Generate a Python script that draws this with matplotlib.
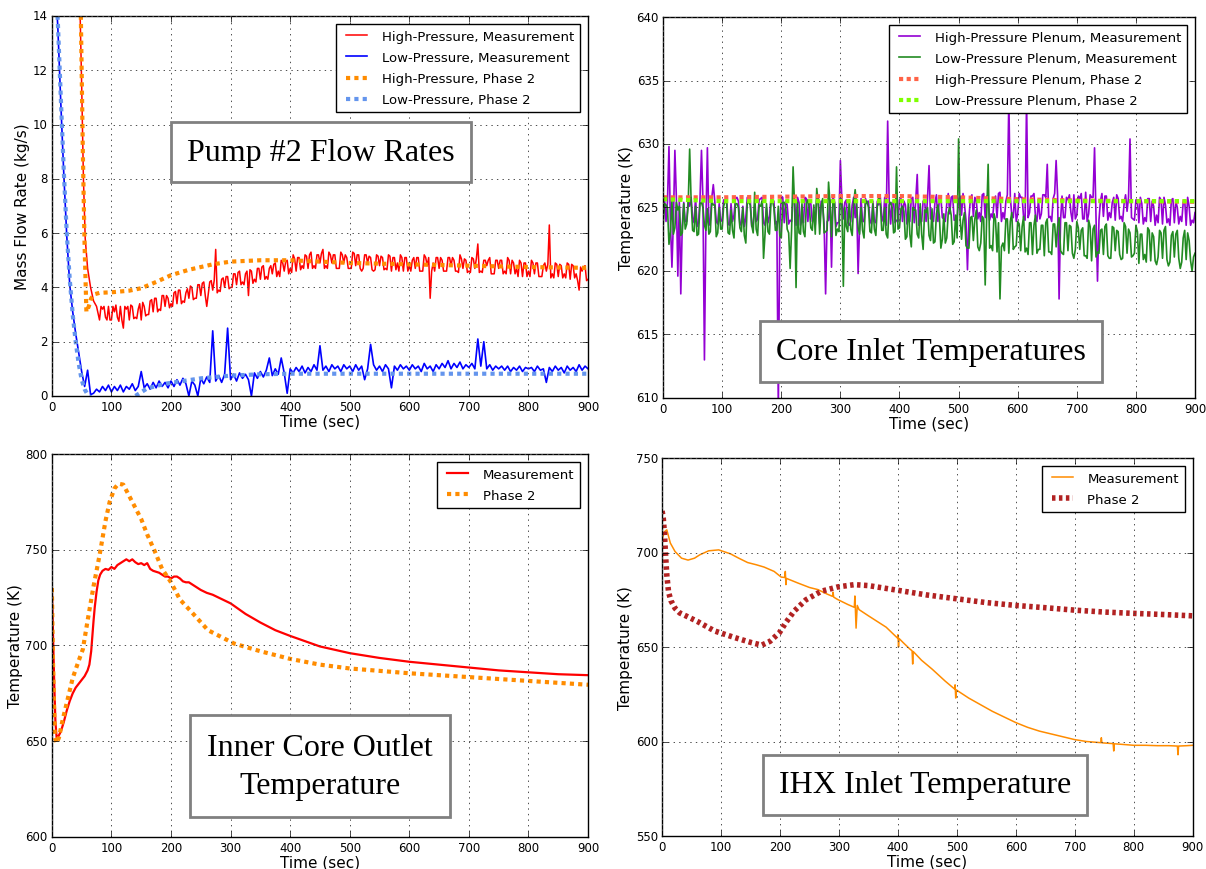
import matplotlib
matplotlib.use('Agg')
import matplotlib.pyplot as plt
import numpy as np

plt.style.use('classic')
plt.rcParams['figure.facecolor'] = 'white'
plt.rcParams['savefig.facecolor'] = 'white'
plt.rcParams['font.family'] = ['DejaVu Sans']
plt.rcParams['xtick.labelsize'] = 8.5
plt.rcParams['ytick.labelsize'] = 8.5
plt.rcParams['axes.labelsize'] = 11
plt.rcParams['legend.fontsize'] = 9.5

# ---------------- Pump #2 flow rates (kg/s) ----------------
hp_time = [47, 50, 53, 56] + list(range(60, 901, 5))
hp_flow = [14.5, 11.5, 8.0, 5.8,
           4.7, 4.0, 3.5, 3.3, 2.8, 3.2, 2.9, 3.3, 2.8, 3.1,
           2.9, 3.3, 2.5, 3.2, 2.8, 3.3, 2.9, 3.2, 2.8, 3.3,
           3.0, 3.5, 3.1, 3.6, 3.2, 3.7, 3.3, 3.6, 3.4, 3.8,
           3.4, 3.9, 3.5, 3.8, 3.6, 4.0, 3.6, 4.1, 3.7, 4.2,
           3.3, 4.2, 3.9, 5.4, 3.9, 4.3, 4.0, 4.4, 4.0, 4.5,
           4.1, 4.6, 4.2, 4.5, 3.7, 4.6, 4.3, 4.7, 4.3, 4.8,
           4.4, 4.7, 4.5, 4.9, 4.6, 5.0, 4.6, 5.0, 4.7, 5.2,
           4.6, 5.1, 4.8, 5.2, 4.7, 5.3, 4.8, 5.2, 4.9, 5.4,
           4.8, 5.3, 4.9, 5.2, 4.7, 5.3, 4.9, 5.1, 4.7, 5.3,
           4.8, 5.2, 4.6, 5.2, 4.9, 5.1, 4.6, 5.2, 4.8, 5.1,
           4.7, 5.2, 4.6, 5.1, 4.9, 5.2, 4.6, 5.1, 4.8, 5.0,
           4.7, 5.1, 4.6, 5.2, 4.8, 3.6, 4.9, 5.1, 4.7, 5.0,
           4.6, 5.1, 4.8, 5.0, 4.6, 5.2, 4.7, 5.0, 4.6, 5.1,
           4.7, 5.6, 4.6, 5.0, 4.8, 5.1, 4.5, 5.0, 4.7, 5.0,
           4.6, 5.1, 4.5, 4.9, 4.7, 5.0, 4.4, 4.9, 4.6, 5.0,
           4.5, 4.9, 4.4, 4.8, 4.6, 6.3, 4.5, 4.9, 4.4, 4.8,
           4.5, 4.9, 4.3, 4.8, 4.5, 3.9, 4.6, 4.8, 4.3]
# samples in between (82.5 s ... 897.5 s)
hp_time_mid = list(np.arange(82.5, 900, 5))
hp_flow_mid = [3.3, 3.3, 2.8, 2.8, 3.3, 3.35, 2.75, 2.8, 3.3, 3.3,
               3.35, 2.85, 2.85, 3.4, 3.45, 2.95, 3.0, 3.55, 3.6, 3.1,
               3.15, 3.7, 3.7, 3.25, 3.3, 3.85, 3.9, 3.4, 3.45, 3.95,
               4.05, 3.55, 3.6, 4.1, 4.15, 3.7, 3.75, 4.25, 4.25, 3.8,
               3.85, 4.35, 4.4, 3.95, 4.0, 4.5, 4.55, 4.1, 4.1, 4.6,
               4.65, 4.15, 4.2, 4.7, 4.75, 4.3, 4.3, 4.8, 4.85, 4.4,
               4.4, 4.9, 4.95, 4.5, 4.55, 5.05, 5.1, 4.65, 4.7, 5.15,
               5.2, 4.7, 4.7, 5.2, 5.25, 4.7, 4.7, 5.2, 5.2, 4.7,
               4.7, 5.2, 5.2, 4.7, 4.7, 5.25, 5.2, 4.7, 4.7, 5.2,
               5.15, 4.65, 4.65, 5.15, 5.15, 4.65, 4.65, 5.15, 5.1, 4.65,
               4.6, 5.1, 5.1, 4.6, 4.6, 5.1, 5.1, 4.6, 4.6, 5.1,
               5.1, 4.6, 4.6, 5.1, 5.1, 4.6, 4.6, 5.1, 5.1, 4.6,
               4.55, 5.05, 5.05, 4.55, 4.55, 5.05, 5.05, 4.55, 4.55, 5.0,
               5.0, 4.5, 4.5, 5.0, 5.0, 4.5, 4.5, 5.0, 5.0, 4.5,
               4.4, 4.9, 4.9, 4.4, 4.4, 4.9, 4.9, 4.4, 4.4, 4.9,
               4.85, 4.35, 4.35, 4.85, 4.85, 4.35, 4.35, 4.85, 4.85, 4.35,
               4.25, 4.75, 4.75, 4.25]

lp_time = list(range(0, 901, 5))
lp_flow = [17.5, 15.5, 13.6, 10.8, 8.2, 5.9, 4.1, 3.1, 2.3, 1.6,
           0.9, 0.35, 0.95, 0.05, 0.1, 0.25, 0.15, 0.35, 0.2, 0.4,
           0.15, 0.35, 0.2, 0.4, 0.15, 0.35, 0.25, 0.45, 0.2, 0.35,
           0.9, 0.3, 0.45, 0.25, 0.5, 0.3, 0.55, 0.35, 0.5, 0.3,
           0.55, 0.35, 0.6, 0.4, 0.65, 0.45, 0.0, 0.55, 0.4, 0.0,
           0.65, 0.45, 0.7, 0.5, 2.4, 0.55, 0.75, 0.5, 0.8, 2.5,
           0.6, 0.8, 0.55, 0.85, 0.65, 0.8, 0.6, 0.0, 0.85, 0.65,
           0.9, 0.7, 0.95, 1.4, 0.75, 1.0, 0.8, 1.4, 0.85, 0.1,
           1.0, 0.85, 1.05, 0.9, 1.1, 0.85, 1.05, 0.9, 1.15, 0.95,
           1.85, 0.95, 1.1, 0.9, 1.15, 1.0, 1.1, 0.9, 1.15, 1.0,
           1.1, 0.9, 1.15, 0.95, 1.1, 0.6, 1.0, 1.9, 1.15, 0.95,
           1.1, 0.9, 1.15, 1.0, 0.3, 1.1, 0.95, 1.15, 1.0, 1.1,
           0.95, 1.15, 1.0, 1.1, 0.9, 1.2, 1.0, 1.1, 0.9, 1.15,
           1.0, 1.2, 1.05, 1.3, 1.0, 1.2, 1.05, 1.25, 1.0, 1.15,
           1.05, 1.2, 1.0, 2.1, 1.1, 2.0, 1.0, 1.15, 0.95, 1.1,
           1.0, 1.1, 0.95, 1.1, 0.9, 1.05, 0.95, 1.1, 0.9, 1.05,
           1.0, 1.05, 0.9, 1.1, 0.95, 1.0, 0.5, 1.05, 0.9, 1.1,
           0.95, 1.05, 0.85, 1.1, 0.95, 1.05, 0.9, 1.15, 0.95, 1.1,
           1.0]

hp2_time = [48, 52, 55, 58, 62, 66, 72, 80, 100, 130, 150, 175, 200, 230,
            270, 300, 350, 400, 450, 500, 600, 700, 800, 900]
hp2_flow = [15, 9, 5.5, 3.1, 3.3, 3.6, 3.75, 3.8, 3.82, 3.88, 3.97, 4.2, 4.45,
            4.65, 4.85, 4.95, 5.0, 5.0, 4.95, 4.9, 4.85, 4.8, 4.75, 4.72]

lp2_time = [0, 5, 10, 15, 20, 25, 30, 35, 40, 45, 50, 55, 60, 70, 90, 120,
            140, 160, 190, 220, 250, 300, 350, 400, 500, 600, 700, 800, 900]
lp2_flow = [17.5, 15.8, 13.8, 11.0, 8.3, 6.0, 4.3, 3.0, 2.0, 1.2, 0.6, 0.25,
            0.05, -0.15, -0.3, -0.2, 0.0, 0.28, 0.45, 0.55, 0.65, 0.75, 0.8,
            0.82, 0.82, 0.82, 0.82, 0.82, 0.82]

# ---------------- Core inlet temperatures (K) ----------------
plenum_time = list(range(0, 901, 5))
hpp_temp = [625.6, 623.9, 629.8, 620.3, 629.5, 619.6, 618.2, 625.4, 623.9, 625.1,
            624.2, 625.8, 623.8, 629.5, 613.0, 629.7, 624.0, 626.8, 623.9, 625.3,
            624.0, 625.6, 623.7, 625.3, 624.4, 625.8, 623.6, 625.1, 624.2, 625.6,
            623.5, 625.2, 624.1, 625.7, 623.8, 625.0, 624.3, 625.6, 623.7, 609.0,
            625.9, 623.8, 625.2, 624.0, 625.7, 623.6, 625.4, 624.1, 625.8, 623.9,
            625.3, 624.2, 625.6, 623.7, 625.1, 618.2, 624.0, 620.3, 625.5, 623.8,
            628.7, 624.1, 625.6, 623.6, 625.2, 624.2, 619.8, 625.7, 623.9, 625.3,
            624.0, 625.5, 623.8, 625.2, 624.3, 625.8, 631.8, 623.7, 625.4, 624.0,
            625.6, 623.9, 625.2, 624.1, 625.7, 623.8, 627.6, 624.2, 625.5, 623.9,
            628.3, 624.3, 625.4, 623.9, 625.8, 624.1, 625.3, 624.5, 625.9, 624.0,
            625.6, 624.4, 625.2, 620.1, 625.7, 624.3, 625.5, 624.6, 626.0, 624.2,
            625.7, 624.5, 625.4, 624.2, 626.2, 624.6, 625.5, 633.5, 624.4, 626.1,
            624.5, 625.8, 624.2, 633.5, 624.6, 625.9, 624.3, 625.6, 624.5, 626.0,
            628.4, 624.3, 625.7, 628.7, 617.8, 625.9, 624.2, 625.6, 624.6, 626.0,
            624.4, 625.7, 624.1, 626.2, 624.5, 625.8, 629.7, 619.2, 625.5, 624.3,
            625.9, 624.6, 625.4, 624.0, 625.7, 624.3, 625.3, 624.7, 630.4, 624.1,
            625.6, 623.8, 625.3, 624.2, 625.7, 623.9, 625.1, 624.4, 625.8, 623.7,
            625.2, 624.1, 625.6, 623.8, 625.0, 624.3, 625.4, 623.6, 625.1, 624.0,
            624.6]
lpp_temp = [623.5, 625.2, 622.1, 625.5, 623.4, 624.8, 622.8, 625.3, 623.7, 629.6,
            623.2, 625.1, 622.9, 625.4, 623.6, 624.9, 623.1, 625.2, 622.7, 625.0,
            623.3, 625.5, 623.0, 624.8, 622.6, 625.3, 623.4, 625.0, 622.2, 625.4,
            623.6, 626.2, 622.8, 625.1, 621.0, 625.3, 622.9, 625.6, 623.2, 625.1,
            622.6, 625.4, 623.3, 620.2, 628.2, 618.7, 623.0, 625.3, 622.7, 625.6,
            623.4, 625.2, 626.5, 622.9, 625.7, 623.1, 627.0, 622.7, 625.4, 623.3,
            625.8, 618.8, 623.5, 625.6, 622.8, 626.4, 623.4, 625.0, 622.6, 625.5,
            623.1, 625.3, 622.8, 625.9, 623.2, 625.0, 622.6, 625.4, 623.0, 628.2,
            623.4, 625.1, 622.5, 625.6, 621.9, 624.8, 622.9, 625.3, 621.7, 624.6,
            622.8, 624.9, 622.3, 625.2, 621.8, 624.5, 622.6, 625.0, 622.1, 624.4,
            630.4, 622.5, 624.6, 621.8, 624.2, 622.4, 624.8, 621.6, 624.3, 618.9,
            628.4, 622.0, 624.5, 621.5, 617.8, 622.2, 624.1, 621.4, 624.6, 621.9,
            623.9, 621.6, 624.3, 621.8, 623.8, 621.3, 624.4, 621.7, 623.6, 621.2,
            624.1, 621.5, 623.7, 621.9, 624.2, 621.4, 623.8, 621.6, 623.5, 621.0,
            623.9, 621.7, 623.4, 621.2, 624.0, 620.8, 623.6, 621.5, 623.2, 621.3,
            623.7, 621.0, 623.5, 621.6, 623.1, 620.9, 623.8, 621.4, 623.0, 621.2,
            623.6, 620.6, 622.9, 621.3, 623.4, 620.8, 622.7, 620.5, 623.2, 621.0,
            623.5, 620.4, 622.8, 621.1, 623.2, 620.2, 622.6, 620.9, 622.4, 620.0,
            621.4]
# samples in between (2.5 s ... 897.5 s)
plenum_time_mid = list(np.arange(2.5, 900, 5))
hpp_temp_mid = [625.7, 625.5, 623.7, 623.9, 625.8, 625.6, 623.6, 623.9, 625.6, 625.8,
                623.8, 623.5, 625.7, 625.5, 623.9, 623.6, 625.8, 625.5, 623.7, 623.9,
                625.6, 625.8, 623.6, 623.9, 625.7, 625.5, 623.8, 623.5, 625.8, 625.6,
                623.7, 623.9, 625.6, 625.8, 623.6, 623.8, 625.7, 625.5, 623.9, 623.6,
                625.8, 625.5, 623.7, 623.9, 625.6, 625.8, 623.6, 623.8, 625.7, 625.5,
                623.9, 623.6, 625.8, 625.5, 623.7, 623.9, 625.6, 625.8, 623.5, 623.8,
                625.6, 625.4, 623.8, 623.9, 625.8, 625.5, 623.6, 623.9, 625.7, 625.5,
                623.7, 623.9, 625.5, 625.8, 623.9, 623.6, 625.6, 625.4, 623.8, 623.9,
                625.7, 625.5, 623.7, 623.9, 625.8, 625.6, 623.6, 623.9, 625.6, 625.8,
                624.1, 623.9, 626.0, 625.8, 624.2, 623.9, 626.1, 625.8, 624.0, 624.2,
                625.9, 626.1, 624.0, 624.2, 626.0, 625.8, 624.1, 623.9, 626.1, 625.9,
                624.0, 624.2, 625.9, 626.1, 623.9, 624.1, 626.0, 625.8, 624.2, 623.9,
                626.1, 625.8, 624.0, 624.2, 625.9, 626.1, 623.9, 624.1, 626.0, 625.8,
                624.2, 623.9, 626.1, 625.9, 624.0, 624.2, 625.8, 626.0, 623.9, 624.1,
                625.9, 626.1, 624.1, 623.9, 626.0, 625.8, 624.2, 624.0, 626.1, 625.9,
                624.0, 624.2, 625.8, 626.0, 624.1, 623.9, 626.0, 625.8, 624.2, 624.0,
                625.6, 625.8, 623.7, 623.9, 625.7, 625.5, 623.6, 623.8, 625.6, 625.8,
                623.8, 623.6, 625.7, 625.5, 623.7, 623.9, 625.6, 625.8, 623.6, 623.8]
lpp_temp_mid = [625.3, 625.0, 623.1, 622.9, 625.4, 625.1, 623.0, 623.3, 625.2, 625.5,
                623.1, 622.8, 625.3, 625.0, 623.2, 622.9, 625.5, 625.2, 623.0, 623.3,
                625.1, 625.4, 622.9, 623.2, 625.3, 625.0, 623.1, 622.8, 625.4, 625.2,
                623.0, 623.3, 625.2, 625.5, 622.9, 623.1, 625.3, 625.0, 623.2, 622.8,
                625.4, 625.1, 623.0, 623.3, 625.2, 625.4, 622.9, 623.1, 625.3, 625.0,
                623.2, 622.9, 625.4, 625.1, 623.0, 623.2, 625.3, 625.5, 622.8, 623.1,
                625.2, 625.0, 623.1, 623.3, 625.4, 625.1, 622.9, 623.2, 625.3, 625.0,
                623.0, 623.3, 625.1, 625.4, 623.2, 622.9, 625.2, 625.0, 623.1, 623.3,
                624.9, 624.7, 622.7, 622.9, 625.0, 624.8, 622.6, 622.9, 624.8, 625.0,
                622.4, 622.2, 624.5, 624.3, 622.5, 622.2, 624.6, 624.4, 622.3, 622.6,
                624.2, 624.0, 622.0, 621.8, 624.3, 624.1, 621.9, 622.2, 624.1, 624.3,
                621.8, 621.6, 624.0, 623.8, 621.9, 621.6, 624.1, 623.9, 621.7, 622.0,
                623.7, 623.5, 621.5, 621.3, 623.8, 623.6, 621.4, 621.7, 623.6, 623.8,
                621.5, 621.3, 623.7, 623.5, 621.6, 621.3, 623.8, 623.6, 621.4, 621.7,
                623.4, 623.2, 621.2, 621.0, 623.5, 623.3, 621.1, 621.4, 623.3, 623.5,
                621.2, 621.0, 623.4, 623.2, 621.3, 621.0, 623.5, 623.3, 621.1, 621.4,
                623.1, 622.9, 620.9, 620.7, 623.2, 623.0, 620.8, 621.1, 623.0, 623.2,
                620.9, 620.7, 623.1, 622.9, 621.0, 620.7, 623.2, 623.0, 620.8, 621.1]
plenum2_time = [0, 100, 200, 300, 400, 500, 600, 700, 800, 900]
hpp2_temp = [625.8, 625.8, 625.85, 625.9, 625.9, 625.8, 625.65, 625.55, 625.5, 625.45]
lpp2_temp = [625.65, 625.5, 625.5, 625.5, 625.5, 625.5, 625.5, 625.5, 625.5, 625.5]

# ---------------- Inner core outlet temperature (K) ----------------
ico_time = [0, 2, 4, 6, 8, 10, 15, 20, 25, 30, 35, 40, 45, 50, 55, 60, 63, 66,
            68, 70, 72, 75, 78, 81, 85, 90, 95, 100, 105, 110, 115, 120, 125,
            130, 135, 140, 145, 150, 155, 160, 165, 170, 175, 180, 185, 190,
            195, 200, 205, 210, 215, 220, 225, 230, 240, 250, 260, 270, 280,
            290, 300, 325, 350, 375, 400, 450, 500, 550, 600, 650, 700, 750,
            800, 850, 900]
ico_temp = [730, 705, 680, 660, 652, 652, 655, 660, 666, 671, 675, 678, 680,
            682, 684, 687, 690, 697, 705, 713, 720, 728, 734, 737, 739, 740,
            739.5, 741, 740, 742, 743, 744, 745, 744, 745, 743.5, 742.5, 743,
            742, 743, 740, 739, 738.5, 738, 737, 736, 736, 735, 736, 736, 735,
            733.5, 733, 733, 731, 729, 727.5, 726.5, 725, 723.5, 722, 716.5,
            712, 708, 705, 699.5, 696, 693.5, 691.5, 690, 688.5, 687, 686, 685,
            684.5]
ico2_time = [0, 2, 5, 8, 12, 18, 25, 35, 45, 52, 60, 70, 80, 90, 97, 105, 112,
             120, 130, 140, 150, 160, 173, 185, 200, 215, 233, 262, 306, 350,
             400, 450, 500, 600, 700, 800, 900]
ico2_temp = [730, 690, 652, 649, 652, 661, 670, 683, 692, 698, 713, 731, 747,
             765, 775, 782, 784.5, 784, 778, 772, 766, 758, 749, 740, 733, 724,
             718, 708, 701, 697, 693, 690, 688, 685.5, 683.5, 681.5, 679.5]

# ---------------- IHX inlet temperature (K) ----------------
ihx_time = [0, 4, 8, 14, 22, 33, 44, 55, 64, 79, 96, 116, 130, 145, 160, 173,
            190, 202, 208, 209, 210, 211, 230, 250, 264, 280, 289, 290, 291,
            298, 315, 326, 327, 329, 331, 334, 350, 365, 380, 399, 400, 401,
            402, 409, 420, 424, 425, 426, 440, 458, 480, 496, 497, 498, 499,
            520, 540, 560, 580, 600, 620, 640, 660, 680, 700, 720, 740, 744,
            745, 746, 760, 765, 766, 767, 780, 800, 820, 840, 860, 874, 875,
            876, 890, 900]
ihx_temp = [707, 711, 712, 705, 700.5, 697, 696, 697, 698.8, 700.9, 701.4,
            699.3, 697, 694.7, 693.5, 692.3, 690, 687, 686.8, 690, 683, 686.3,
            683.9, 681.5, 680.4, 678, 676.8, 679, 676.4, 675.1, 672.5, 671,
            677, 660, 672, 669.8, 666.5, 663.5, 660.5, 654.8, 656.5, 650,
            654.5, 652.3, 649, 648, 641, 647.6, 643, 638.3, 632, 627.8, 630,
            623, 627.3, 623, 619.5, 616, 613, 610, 607.5, 605.5, 604, 602.5,
            601, 600, 599.5, 599.4, 602, 599.3, 599, 598.9, 595, 598.8, 598.5,
            598, 598, 597.8, 597.8, 597.6, 593, 597.6, 597.8, 598]
ihx2_time = [0, 2, 4, 6, 8, 11, 15, 22, 30, 47, 60, 89, 123, 152, 169, 183,
             199, 210, 224, 244, 270, 298, 326, 350, 400, 450, 500, 550, 600,
             650, 700, 750, 800, 850, 900]
ihx2_temp = [722, 718, 710, 698, 688, 679, 674.5, 670.5, 668, 665.5, 663.5,
             658.5, 655, 652.3, 651, 653, 657.6, 663, 669, 675, 679.5, 681.8,
             683, 682.5, 680, 677.5, 675.5, 673.5, 672, 670.8, 669.5, 668.5,
             667.8, 667.2, 666.5]

time_ticks = list(range(0, 901, 100))


def merged(t_a, v_a, t_b, v_b):
    # put two sets of samples of one series into time order
    t = np.concatenate([t_a, t_b])
    v = np.concatenate([v_a, v_b])
    order = np.argsort(t, kind='stable')
    return t[order], v[order]


fig = plt.figure(figsize=(12.06, 8.7), dpi=100)
ax1 = fig.add_axes([0.043, 0.5437, 0.4446, 0.4368])
ax2 = fig.add_axes([0.5498, 0.5414, 0.4411, 0.4379])
ax3 = fig.add_axes([0.043, 0.0368, 0.4446, 0.4402])
ax4 = fig.add_axes([0.549, 0.0379, 0.440, 0.4345])

box = dict(boxstyle='square,pad=0.5', facecolor='white', edgecolor='0.5', linewidth=2)
serif = ['Liberation Serif', 'DejaVu Serif']

# Pump flow rates
t, v = merged(hp_time, hp_flow, hp_time_mid, hp_flow_mid)
ax1.plot(t, v, color='red', lw=1.1, label='High-Pressure, Measurement')
ax1.plot(lp_time, lp_flow, color='blue', lw=1.2, label='Low-Pressure, Measurement')
ax1.plot(hp2_time, hp2_flow, color='darkorange', lw=3, dashes=(3, 3),
         label='High-Pressure, Phase 2')
ax1.plot(lp2_time, lp2_flow, color='cornflowerblue', lw=3, dashes=(3, 3),
         label='Low-Pressure, Phase 2')
ax1.set_xlim(0, 900)
ax1.set_ylim(0, 14)
ax1.set_yticks(range(0, 15, 2))
ax1.set_ylabel('Mass Flow Rate (kg/s)', labelpad=2)
ax1.text(0.502, 0.642, 'Pump #2 Flow Rates', transform=ax1.transAxes,
         ha='center', va='center', fontsize=23, family=serif, bbox=box)

# Core inlet temperatures
t, v = merged(plenum_time, hpp_temp, plenum_time_mid, hpp_temp_mid)
ax2.plot(t, v, color='darkviolet', lw=1.2, label='High-Pressure Plenum, Measurement')
t, v = merged(plenum_time, lpp_temp, plenum_time_mid, lpp_temp_mid)
ax2.plot(t, v, color='forestgreen', lw=1.2, label='Low-Pressure Plenum, Measurement')
ax2.plot(plenum2_time, hpp2_temp, color='tomato', lw=3, dashes=(3, 2.5),
         label='High-Pressure Plenum, Phase 2')
ax2.plot(plenum2_time, lpp2_temp, color='chartreuse', lw=3, dashes=(3, 2.5),
         label='Low-Pressure Plenum, Phase 2')
ax2.set_xlim(0, 900)
ax2.set_ylim(610, 640)
ax2.set_yticks(range(610, 641, 5))
ax2.set_ylabel('Temperature (K)', labelpad=2)
ax2.text(0.504, 0.123, 'Core Inlet Temperatures', transform=ax2.transAxes,
         ha='center', va='center', fontsize=23, family=serif, bbox=box)

# Inner core outlet temperature
ax3.plot(ico_time, ico_temp, color='red', lw=1.6, label='Measurement')
ax3.plot(ico2_time, ico2_temp, color='darkorange', lw=3, dashes=(3, 3), label='Phase 2')
ax3.set_xlim(0, 900)
ax3.set_ylim(600, 800)
ax3.set_yticks(range(600, 801, 50))
ax3.set_ylabel('Temperature (K)', labelpad=2)
ax3.text(0.5, 0.185, 'Inner Core Outlet\nTemperature', transform=ax3.transAxes,
         ha='center', va='center', fontsize=23, family=serif,
         bbox=dict(box, boxstyle='square,pad=0.55'), linespacing=1.4)

# IHX inlet temperature
ax4.plot(ihx_time, ihx_temp, color='darkorange', lw=1.1, label='Measurement')
ax4.plot(ihx2_time, ihx2_temp, color='firebrick', lw=4, dashes=(2.5, 2.5), label='Phase 2')
ax4.set_xlim(0, 900)
ax4.set_ylim(550, 750)
ax4.set_yticks(range(550, 751, 50))
ax4.set_ylabel('Temperature (K)', labelpad=2)
ax4.text(0.495, 0.135, 'IHX Inlet Temperature', transform=ax4.transAxes,
         ha='center', va='center', fontsize=23, family=serif, bbox=box)

for ax in (ax1, ax2, ax3, ax4):
    ax.set_xticks(time_ticks)
    ax.set_xlabel('Time (sec)', labelpad=0)
    ax.ticklabel_format(useOffset=False)
    ax.grid(True, color='0.3', linestyle=':', linewidth=0.7)
    ax.tick_params(pad=3)
    leg = ax.legend(loc='upper right', fontsize=9.5, numpoints=2,
                    handlelength=2.2, borderpad=0.45, labelspacing=0.62,
                    borderaxespad=0.6)
    leg.get_frame().set_linewidth(1)

fig.savefig('out.png', dpi=100)
